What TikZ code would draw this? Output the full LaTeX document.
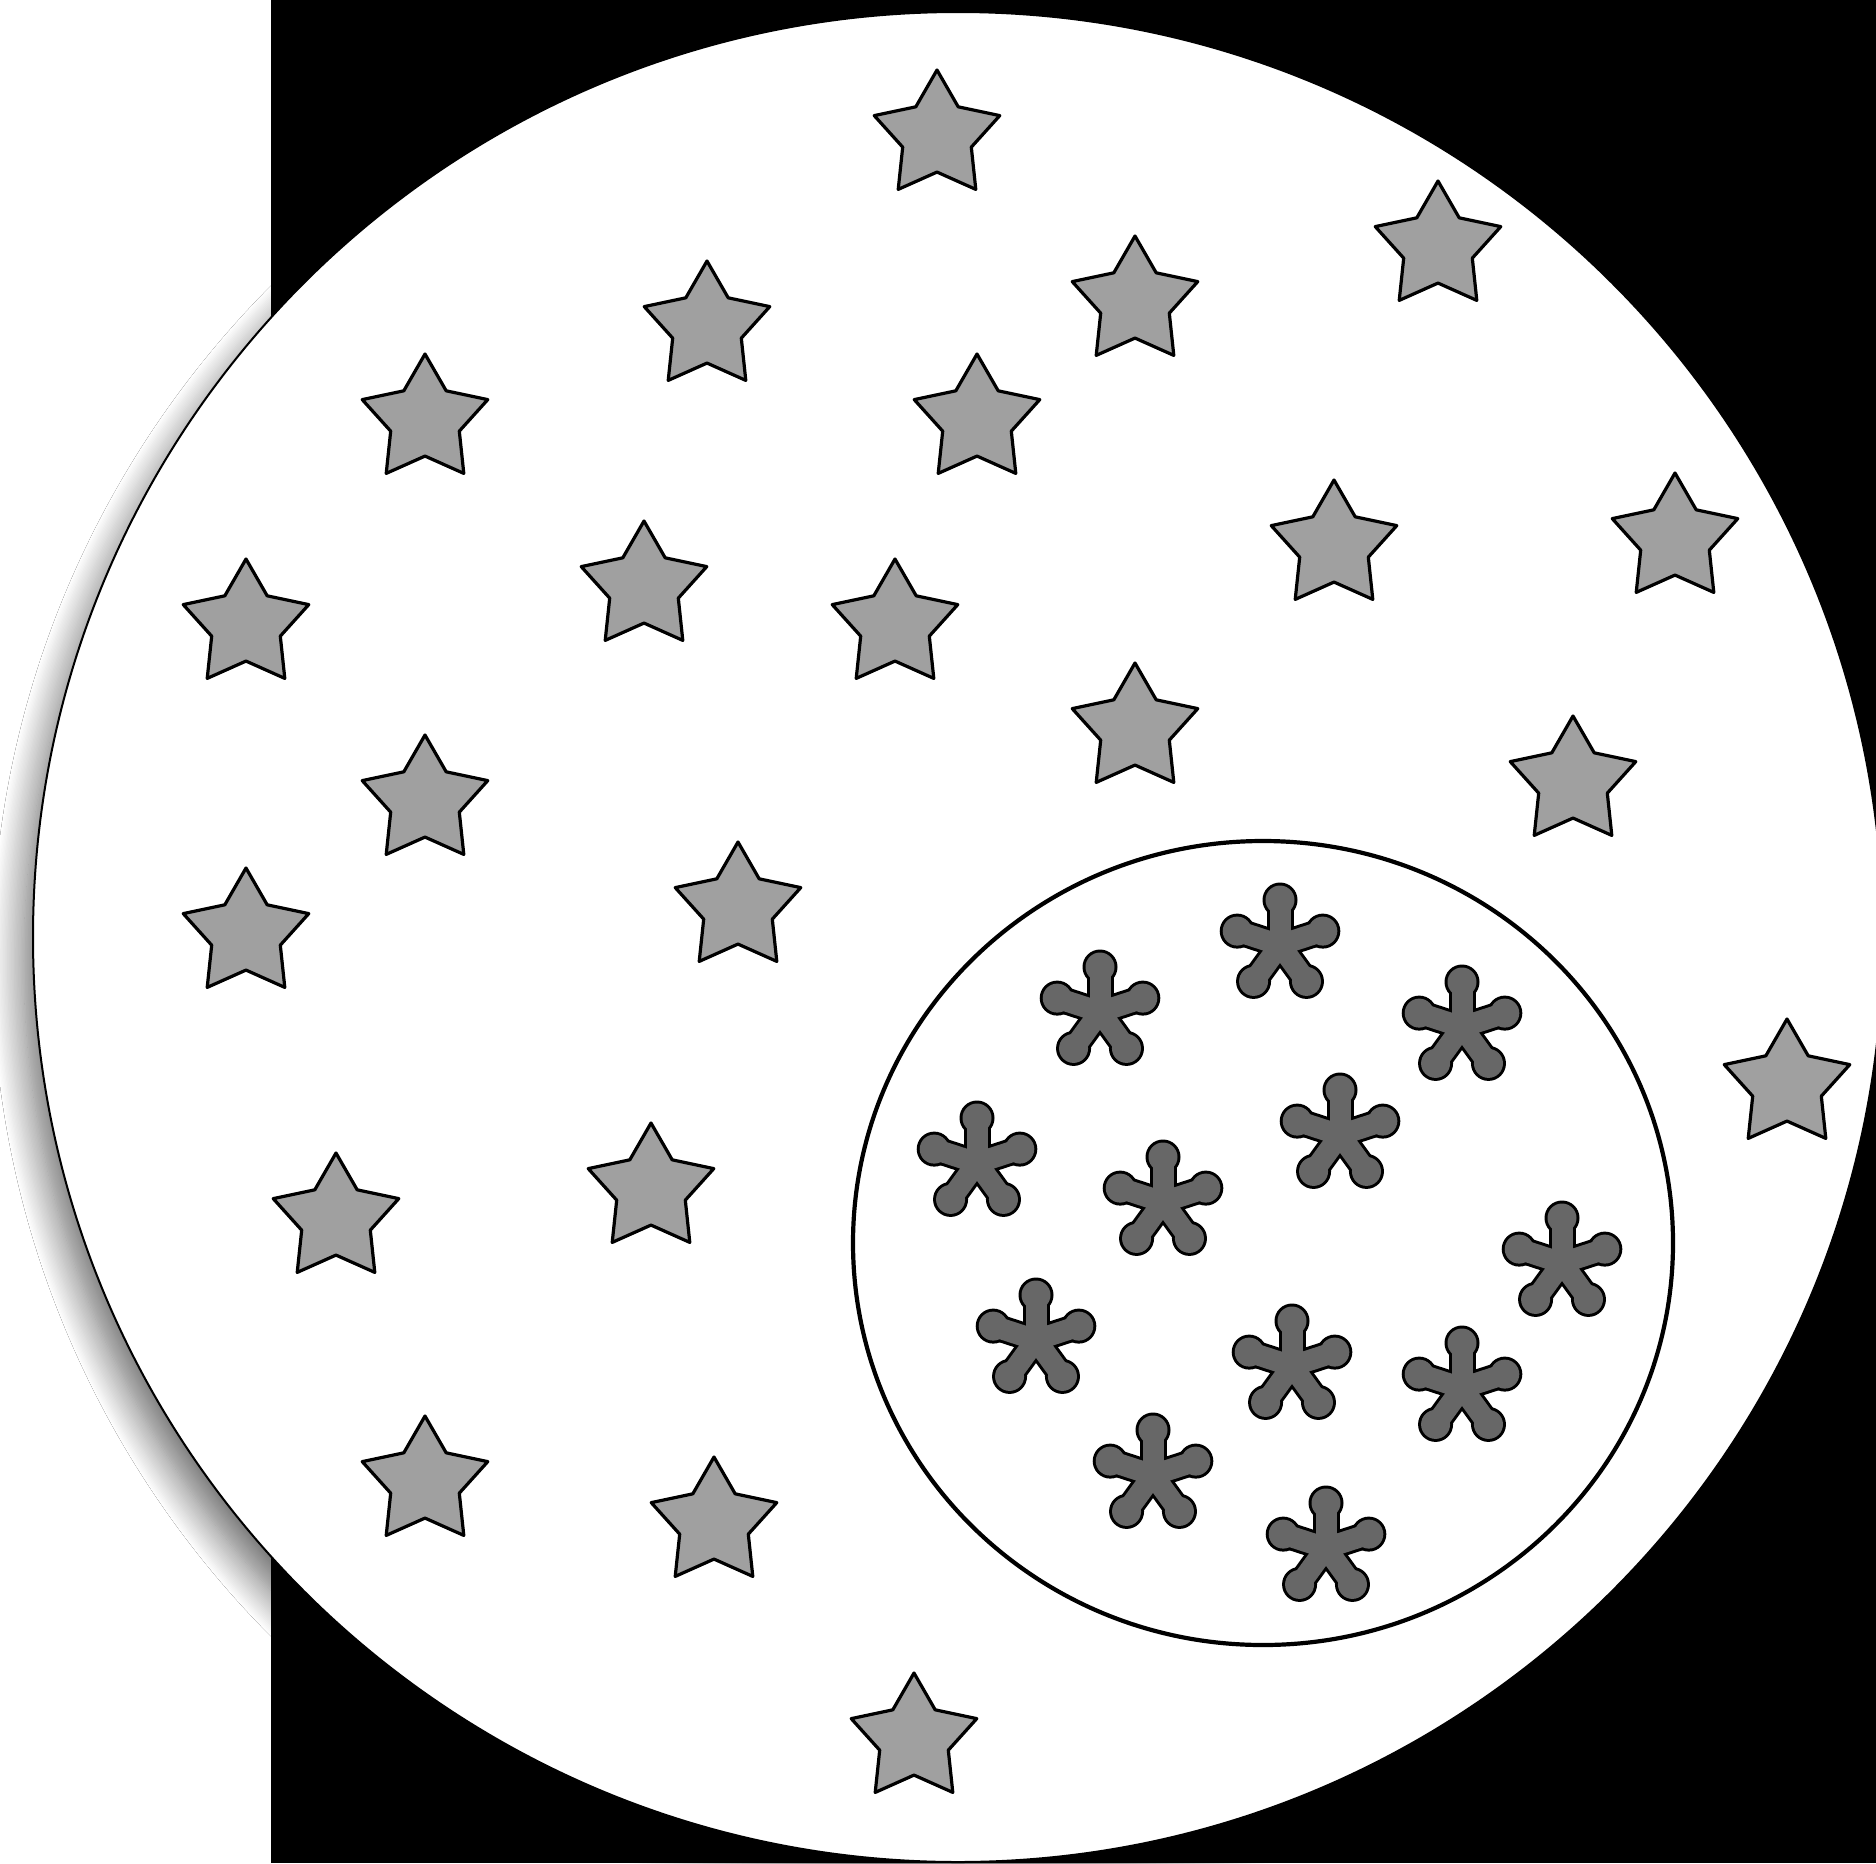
\documentclass[tikz,border=0pt]{standalone}
\usetikzlibrary{shapes.geometric,shadows.blur}
\definecolor{dotStar}{HTML}{A0A0A0}
\definecolor{dotBlob}{HTML}{676767}
\definecolor{dotInk}{HTML}{000000}
\tikzset{blob/.pic={
  \foreach \a in {90,162,234,306,18} {\draw[dotInk,line width=27pt] (0,0) -- (\a:45pt); \fill[dotInk] (\a:45pt) circle (17.5pt);}
  \foreach \a in {90,162,234,306,18} {\draw[dotBlob,line width=21pt] (0,0) -- (\a:45pt); \fill[dotBlob] (\a:45pt) circle (14.5pt);}
}}
\begin{document}
\begin{tikzpicture}[x=1pt,y=-1pt,line cap=round,line join=round]
\useasboundingbox (0,0) rectangle (1876,1863);
\clip (0,0) rectangle (1876,1863);
\path[fill=white] (0,0) rectangle (1876,1863);
\path[fill=black] (271,0) rectangle (1876,1863);
\tikzset{plate/.style={circle,inner sep=0pt,fill=white,draw=dotInk,line width=2pt},ring/.style={ellipse,inner sep=0pt,draw=dotInk,line width=4.2pt},gstar/.style={star,star points=5,star point ratio=1.83,minimum size=132pt,inner sep=0pt,draw=dotInk,fill=dotStar,line width=3.2pt}}
\node[plate,minimum size=1850pt,blur shadow={shadow xshift=-9pt,shadow yshift=-24pt,shadow blur radius=32pt,shadow blur steps=24,shadow opacity=60}] (plate) at (958,937) {};
\node[ring,minimum width=820pt,minimum height=804pt] (ring) at (1263,1243) {};
\node[gstar] (s1) at (937,136) {}; \node[gstar] (s2) at (1438,247) {}; \node[gstar] (s3) at (707,327) {}; \node[gstar] (s4) at (1135,302) {};
\node[gstar] (s5) at (425,420) {}; \node[gstar] (s6) at (977,420) {}; \node[gstar] (s7) at (1334,546) {}; \node[gstar] (s8) at (1675,539) {};
\node[gstar] (s9) at (644,587) {}; \node[gstar] (s10) at (246,625) {}; \node[gstar] (s11) at (895,625) {}; \node[gstar] (s12) at (1135,729) {};
\node[gstar] (s13) at (425,801) {}; \node[gstar] (s14) at (1573,782) {}; \node[gstar] (s15) at (738,908) {}; \node[gstar] (s16) at (246,934) {};
\node[gstar] (s17) at (1787,1085) {}; \node[gstar] (s18) at (336,1219) {}; \node[gstar] (s19) at (651,1189) {};
\node[gstar] (s20) at (425,1482) {}; \node[gstar] (s21) at (714,1523) {}; \node[gstar] (s22) at (914,1739) {};
\pic (f1) at (1280,945) {blob}; \pic (f2) at (1100,1012) {blob}; \pic (f3) at (1462,1027) {blob}; \pic (f4) at (1340,1135) {blob};
\pic (f5) at (977,1163) {blob}; \pic (f6) at (1163,1202) {blob}; \pic (f7) at (1562,1263) {blob}; \pic (f8) at (1036,1340) {blob};
\pic (f9) at (1292,1366) {blob}; \pic (f10) at (1462,1388) {blob}; \pic (f11) at (1153,1475) {blob}; \pic (f12) at (1326,1548) {blob};
\end{tikzpicture}
\end{document}
